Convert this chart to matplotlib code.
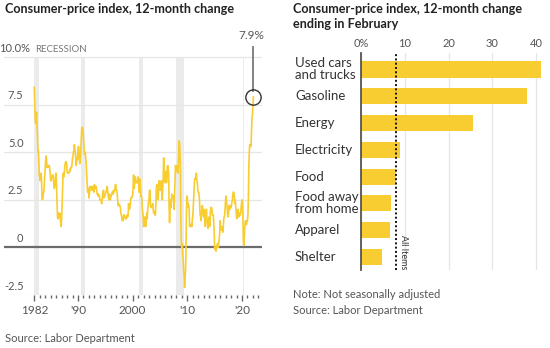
import matplotlib
matplotlib.use("Agg")
import matplotlib.pyplot as plt
import matplotlib.transforms as mtransforms
import numpy as np

plt.rcParams['font.family'] = ['Lato', 'DejaVu Sans']

# CPI 12-month change, monthly, Jan 1982 - Feb 2022
cpi_by_year = {
    1982: [8.4, 7.6, 6.8, 6.5, 6.7, 7.1, 6.4, 5.9, 5.0, 5.1, 4.6, 3.8],
    1983: [3.7, 3.5, 3.6, 3.9, 3.5, 2.6, 2.5, 2.6, 2.9, 2.9, 3.3, 3.8],
    1984: [4.2, 4.6, 4.8, 4.6, 4.2, 4.2, 4.2, 4.3, 4.3, 4.3, 4.1, 3.9],
    1985: [3.5, 3.5, 3.7, 3.7, 3.8, 3.8, 3.6, 3.3, 3.1, 3.2, 3.5, 3.8],
    1986: [3.9, 3.1, 2.2, 1.6, 1.5, 1.8, 1.6, 1.6, 1.8, 1.5, 1.3, 1.1],
    1987: [1.5, 2.1, 3.0, 3.8, 3.9, 3.7, 3.9, 4.3, 4.4, 4.5, 4.5, 4.4],
    1988: [4.0, 3.9, 3.9, 3.9, 3.9, 4.0, 4.1, 4.0, 4.2, 4.2, 4.2, 4.4],
    1989: [4.7, 4.8, 5.0, 5.1, 5.4, 5.2, 5.0, 4.7, 4.3, 4.5, 4.7, 4.6],
    1990: [5.2, 5.3, 5.2, 4.7, 4.4, 4.7, 4.8, 5.6, 6.2, 6.3, 6.3, 6.1],
    1991: [5.7, 5.3, 4.9, 4.9, 5.0, 4.7, 4.4, 3.8, 3.4, 2.9, 3.0, 3.1],
    1992: [2.6, 2.8, 3.2, 3.2, 3.0, 3.1, 3.2, 3.1, 3.0, 3.2, 3.0, 2.9],
    1993: [3.3, 3.2, 3.1, 3.2, 3.2, 3.0, 2.8, 2.8, 2.7, 2.8, 2.7, 2.7],
    1994: [2.5, 2.5, 2.5, 2.4, 2.3, 2.5, 2.8, 2.9, 3.0, 2.6, 2.7, 2.7],
    1995: [2.8, 2.9, 2.9, 3.1, 3.2, 3.0, 2.8, 2.6, 2.5, 2.8, 2.6, 2.5],
    1996: [2.7, 2.7, 2.8, 2.9, 2.9, 2.8, 3.0, 2.9, 3.0, 3.0, 3.3, 3.3],
    1997: [3.0, 3.0, 2.8, 2.5, 2.2, 2.3, 2.2, 2.2, 2.2, 2.1, 1.8, 1.7],
    1998: [1.6, 1.4, 1.4, 1.4, 1.7, 1.7, 1.7, 1.6, 1.5, 1.5, 1.5, 1.6],
    1999: [1.7, 1.6, 1.7, 2.3, 2.1, 2.0, 2.1, 2.3, 2.6, 2.6, 2.6, 2.7],
    2000: [2.7, 3.2, 3.8, 3.1, 3.2, 3.7, 3.7, 3.4, 3.5, 3.4, 3.4, 3.4],
    2001: [3.7, 3.5, 2.9, 3.3, 3.6, 3.2, 2.7, 2.7, 2.6, 2.1, 1.9, 1.6],
    2002: [1.1, 1.1, 1.5, 1.6, 1.2, 1.1, 1.5, 1.8, 1.5, 2.0, 2.2, 2.4],
    2003: [2.6, 3.0, 3.0, 2.2, 2.1, 2.1, 2.1, 2.2, 2.3, 2.0, 1.8, 1.9],
    2004: [1.9, 1.7, 1.7, 2.3, 3.1, 3.3, 3.0, 2.7, 2.5, 3.2, 3.5, 3.3],
    2005: [3.0, 3.0, 3.1, 3.5, 2.8, 2.5, 3.2, 3.6, 4.7, 4.3, 3.5, 3.4],
    2006: [4.0, 3.6, 3.4, 3.5, 4.2, 4.3, 4.1, 3.8, 2.1, 1.3, 2.0, 2.5],
    2007: [2.1, 2.4, 2.8, 2.6, 2.7, 2.7, 2.4, 2.0, 2.8, 3.5, 4.3, 4.1],
    2008: [4.3, 4.0, 4.0, 3.9, 4.2, 5.0, 5.6, 5.4, 4.9, 3.7, 1.1, 0.1],
    2009: [0.0, 0.2, -0.4, -0.7, -1.3, -1.4, -2.1, -1.5, -1.3, -0.2, 1.8, 2.7],
    2010: [2.6, 2.1, 2.3, 2.2, 2.0, 1.1, 1.2, 1.1, 1.1, 1.2, 1.1, 1.5],
    2011: [1.6, 2.1, 2.7, 3.2, 3.6, 3.6, 3.6, 3.8, 3.9, 3.5, 3.4, 3.0],
    2012: [2.9, 2.9, 2.7, 2.3, 1.7, 1.7, 1.4, 1.7, 2.0, 2.2, 1.8, 1.7],
    2013: [1.6, 2.0, 1.5, 1.1, 1.4, 1.8, 2.0, 1.5, 1.2, 1.0, 1.2, 1.5],
    2014: [1.6, 1.1, 1.5, 2.0, 2.1, 2.1, 2.0, 1.7, 1.7, 1.7, 1.3, 0.8],
    2015: [-0.1, 0.0, -0.1, -0.2, 0.0, 0.1, 0.2, 0.2, 0.0, 0.2, 0.5, 0.7],
    2016: [1.4, 1.0, 0.9, 1.1, 1.0, 1.0, 0.8, 1.1, 1.5, 1.6, 1.7, 2.1],
    2017: [2.5, 2.7, 2.4, 2.2, 1.9, 1.6, 1.7, 1.9, 2.2, 2.0, 2.2, 2.1],
    2018: [2.1, 2.2, 2.4, 2.5, 2.8, 2.9, 2.9, 2.7, 2.3, 2.5, 2.2, 1.9],
    2019: [1.6, 1.5, 1.9, 2.0, 1.8, 1.6, 1.8, 1.7, 1.7, 1.8, 2.1, 2.3],
    2020: [2.5, 2.3, 1.5, 0.3, 0.1, 0.6, 1.0, 1.3, 1.4, 1.2, 1.2, 1.4],
    2021: [1.4, 1.7, 2.6, 4.2, 5.0, 5.4, 5.4, 5.3, 5.4, 6.2, 6.8, 7.0],
    2022: [7.5, 7.9],
}

recession_start = [1982.0, 1990.5, 2001.2, 2007.92, 2020.1]
recession_end = [1982.85, 1991.2, 2001.85, 2009.45, 2020.3]

year_ticks = [1982, 1990, 2000, 2010, 2020]
year_labels = ['1982', "'90", '2000', "'10", "'20"]
y_ticks = [10.0, 7.5, 5.0, 2.5, 0, -2.5]
y_labels = ['10.0%', '7.5', '5.0', '2.5', '0', '-2.5']

categories = ['Used cars\nand trucks', 'Gasoline', 'Energy', 'Electricity',
              'Food', 'Food away\nfrom home', 'Apparel', 'Shelter']
changes = [41.2, 38.0, 25.6, 9.0, 7.9, 6.8, 6.6, 4.7]
all_items = 7.9

yellow = '#f8cd32'
grid_c = '#e6e6e6'
text_c = '#555555'

W, H = 550, 348
fig = plt.figure(figsize=(5.5, 3.48), dpi=100)

def px(x0, y0, x1, y1):
    return [x0 / W, 1 - y1 / H, (x1 - x0) / W, (y1 - y0) / H]

# ---------- left: line chart ----------
ax = fig.add_axes(px(4, 28, 262, 295))
ppy = 5.467
ax.set_xlim(1990 - 74 / ppy, 2020 + 20 / ppy)
ax.set_ylim(-2.5, 10 + 29 / 19.04)
for s in ax.spines.values():
    s.set_visible(False)

top_frac = (10 + 2.5) / (ax.get_ylim()[1] + 2.5)
for a, b in zip(recession_start, recession_end):
    ax.axvspan(a, b, ymin=0, ymax=top_frac, color='#ebebeb', lw=0, zorder=0)

lab_tr = mtransforms.blended_transform_factory(fig.transFigure, ax.transData)
for v, lab in zip(y_ticks, y_labels):
    if v == 0:
        ax.axhline(v, color='#6b6b6b', lw=1.6, zorder=1)
    else:
        ax.axhline(v, color=grid_c, lw=0.9, zorder=1)
    xr = 30.5 if lab.endswith('%') else 23.5
    ax.text(xr / W, v + 0.18, lab, transform=lab_tr,
            fontsize=8, color=text_c, ha='right', va='bottom')

ax.text(1982.15, 10.18, 'RECESSION', fontsize=6.9, color='#777777', ha='left', va='bottom')

xs = []
ys = []
for yr, vals in cpi_by_year.items():
    for m, v in enumerate(vals):
        xs.append(yr + m / 12)
        ys.append(v)
ax.plot(xs, ys, color=yellow, lw=1.2, zorder=3, solid_joinstyle='round')

# highlight latest value
ax.plot([xs[-1], xs[-1]], [ys[-1] + 0.33, 10.53], color='#777777', lw=1.3, zorder=4)
ax.plot(xs[-1], ys[-1], 'o', ms=11, mfc='none', mec='#333333', mew=1.0, zorder=5)
ax.text(xs[-1] - 0.3, 11.15, f'{ys[-1]}%', fontsize=8.5, color=text_c, ha='center', va='center')

ax.set_xticks(year_ticks)
ax.set_xticklabels(year_labels, fontsize=8.5, color=text_c)
ax.set_xticks(np.arange(1982, 2024), minor=True)
ax.set_yticks([])
ax.tick_params(axis='x', which='major', length=4, width=1, color='#666666', pad=3)
ax.tick_params(axis='x', which='minor', length=2, width=1, color='#666666')

fig.text(5 / W, 1 - 3 / H, 'Consumer-price index, 12-month change', fontsize=9.1,
         fontweight='bold', color='#222222', ha='left', va='top')
fig.text(5 / W, 1 - 338 / H, 'Source: Labor Department', fontsize=8, color=text_c,
         ha='left', va='center')

# ---------- right: bar chart ----------
bx = fig.add_axes(px(361, 53, 545, 270))
bx.set_xlim(0, 184 / 4.38)
pos = np.arange(len(categories))
bx.set_ylim(7 + 13 / 26.8, -16.5 / 26.8)
bx.barh(pos, changes, height=0.6, color=yellow, zorder=2)
for s in ['top', 'right', 'bottom']:
    bx.spines[s].set_visible(False)
bx.spines['left'].set_color('#555555')
bx.spines['left'].set_linewidth(1.3)
bx.spines['left'].set_zorder(4)
bx.set_xticks([0, 10, 20, 30, 40])
bx.set_xticklabels(['0%', '10', '20', '30', '40'], fontsize=8, color=text_c)
bx.xaxis.tick_top()
bx.tick_params(axis='x', length=0, pad=3)
bx.grid(axis='x', color=grid_c, lw=0.9, zorder=0)
bx.set_yticks([])

bx.axvline(all_items, color='#111111', lw=1.4, ls=(0, (1, 1.2)), zorder=3)
bx.text(all_items + 0.7, 7.48, 'All Items', rotation=270, fontsize=6.5, color='#333333',
        ha='left', va='bottom')

cat_tr = mtransforms.blended_transform_factory(fig.transFigure, bx.transData)
for p, c in zip(pos, categories):
    bx.text(295 / W, p, c, transform=cat_tr, fontsize=9.5, color='#333333',
            ha='left', va='center', linespacing=1.0)

fig.text(293 / W, 1 - 3 / H, 'Consumer-price index, 12-month change\nending in February',
         fontsize=9.1, fontweight='bold', color='#222222', ha='left', va='top', linespacing=1.3)
fig.text(293 / W, 1 - 294 / H, 'Note: Not seasonally adjusted', fontsize=8, color=text_c,
         ha='left', va='center')
fig.text(293 / W, 1 - 310 / H, 'Source: Labor Department', fontsize=8, color=text_c,
         ha='left', va='center')

fig.savefig('out.png', dpi=100)
